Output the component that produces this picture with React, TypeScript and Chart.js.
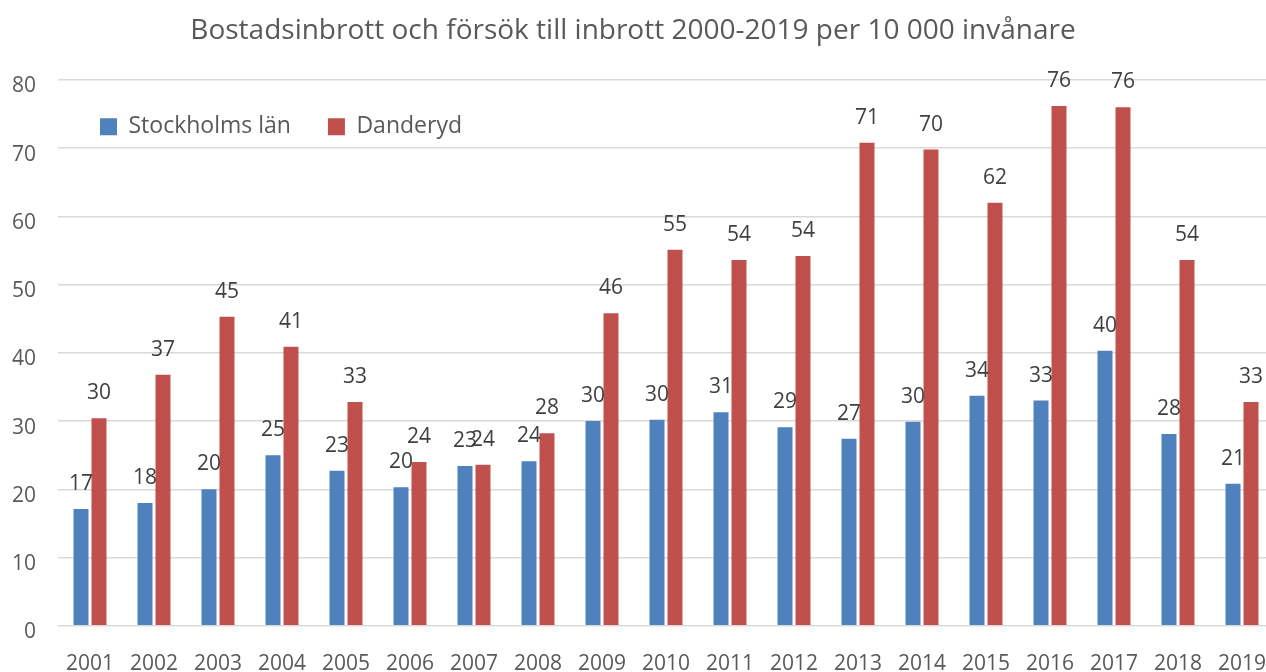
import React, { useEffect, useRef } from "react";
import { Chart, registerables } from "chart.js";

Chart.register(...registerables);

const years = ["2001","2002","2003","2004","2005","2006","2007","2008","2009","2010","2011","2012","2013","2014","2015","2016","2017","2018","2019"];
const stockholmsLan = [17.1, 18.0, 20.0, 25.0, 22.7, 20.3, 23.4, 24.1, 30.0, 30.2, 31.3, 29.1, 27.4, 29.9, 33.7, 33.0, 40.3, 28.1, 20.8];
const danderyd = [30.4, 36.8, 45.3, 40.9, 32.8, 24.0, 23.6, 28.2, 45.8, 55.1, 53.6, 54.2, 70.8, 69.8, 62.0, 76.2, 76.0, 53.6, 32.8];
const seriesNames = ["Stockholms län", "Danderyd"];
const titleText = "Bostadsinbrott och försök till inbrott 2000-2019 per 10 000 invånare";
const yMin = 0;
const yMax = 80;
const yStep = 10;

const FONT = "'Open Sans', 'Noto Sans', sans-serif";

const valueLabelPlugin = {
  id: "valueLabels",
  afterDatasetsDraw(chart: any) {
    const ctx = chart.ctx;
    ctx.save();
    ctx.font = `21px ${FONT}`;
    ctx.fillStyle = "#404040";
    ctx.textAlign = "center";
    ctx.textBaseline = "alphabetic";
    chart.data.datasets.forEach((ds: any, di: number) => {
      const meta = chart.getDatasetMeta(di);
      meta.data.forEach((el: any, i: number) => {
        const v = ds.data[i];
        ctx.fillText(String(Math.round(v)), el.x, el.y - 19);
      });
    });
    ctx.restore();
  },
};

const legendInsidePlugin = {
  id: "legendInside",
  afterInit(chart: any) {
    if (chart.legend) chart.legend.isHorizontal = () => true;
  },
  afterLayout(chart: any) {
    const lg = chart.legend;
    const ca = chart.chartArea;
    if (!lg || !ca) return;
    const h = lg.height;
    lg.left = ca.left + 5;
    lg.top = ca.top - 1.7;
    lg.right = ca.right;
    lg.bottom = lg.top + h + 30;
  },
};

export default function App() {
  const canvasRef = useRef<HTMLCanvasElement | null>(null);

  useEffect(() => {
    if (!canvasRef.current) return;
    Chart.defaults.font.family = FONT;
    const chart = new Chart(canvasRef.current, {
      type: "bar",
      data: {
        labels: years,
        datasets: [
          {
            label: seriesNames[0],
            data: stockholmsLan,
            backgroundColor: "#4F81BD",
            borderWidth: 0,
            categoryPercentage: 0.5625,
            barPercentage: 0.8333,
          },
          {
            label: seriesNames[1],
            data: danderyd,
            backgroundColor: "#C0504D",
            borderWidth: 0,
            categoryPercentage: 0.5625,
            barPercentage: 0.8333,
          },
        ],
      },
      options: {
        responsive: false,
        maintainAspectRatio: false,
        animation: false,
        devicePixelRatio: 1,
        layout: { padding: { left: 0, right: 0, top: 0, bottom: 3.4 } },
        plugins: {
          title: {
            display: true,
            text: titleText,
            color: "#595959",
            font: { family: FONT, size: 28, weight: "normal" },
            padding: { top: 14.5, bottom: 31.9 },
          },
          legend: {
            display: true,
            position: "chartArea",
            align: "start",
            labels: {
              color: "#595959",
              font: { family: FONT, size: 23 },
              boxWidth: 17,
              boxHeight: 17,
              padding: 37,
            },
          },
          tooltip: { enabled: false },
        },
        scales: {
          x: {
            type: "category",
            offset: true,
            grid: {
              display: true,
              color: "rgba(0,0,0,0)",
              drawOnChartArea: false,
              drawTicks: true,
              tickLength: 25.7,
            },
            border: { display: false },
            ticks: {
              color: "#595959",
              font: { family: FONT, size: 21 },
              padding: 0,
              maxRotation: 0,
              autoSkip: false,
            },
          },
          y: {
            min: yMin,
            max: yMax,
            grid: { color: "#d9d9d9", lineWidth: 1.5, drawTicks: false },
            border: { display: false },
            ticks: {
              stepSize: yStep,
              color: "#595959",
              font: { family: FONT, size: 21 },
              padding: 22,
              labelOffset: 6.5,
            },
            afterFit: (scale: any) => {
              scale.width = 66;
            },
          },
        },
      },
      plugins: [valueLabelPlugin, legendInsidePlugin],
    } as any);
    return () => chart.destroy();
  }, []);

  return (
    <div
      style={{
        position: "absolute",
        left: 0,
        top: 0,
        width: 1266,
        height: 672,
        overflow: "hidden",
        background: "#ffffff",
      }}
    >
      <canvas
        ref={canvasRef}
        width={1282}
        height={680}
        style={{ position: "absolute", left: -8, top: 0 }}
      />
    </div>
  );
}
